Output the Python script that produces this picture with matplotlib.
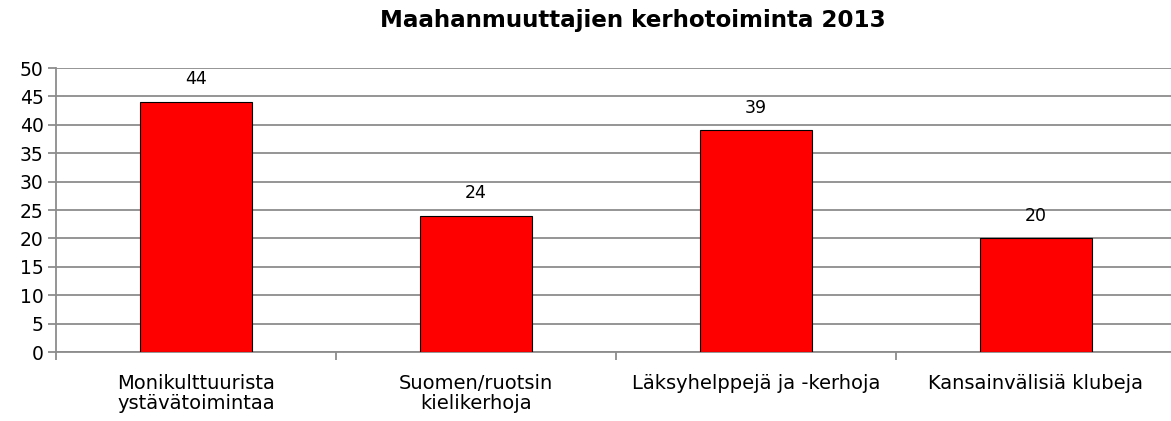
import matplotlib
matplotlib.use("Agg")
import matplotlib.pyplot as plt
import numpy as np

title = "Maahanmuuttajien kerhotoiminta 2013"
categories = [
    "Monikulttuurista\nystävätoimintaa",
    "Suomen/ruotsin\nkielikerhoja",
    "Läksyhelppejä ja -kerhoja",
    "Kansainvälisiä klubeja",
]
values = [44, 24, 39, 20]
y_ticks = list(range(0, 51, 5))

plt.rcParams["font.family"] = ["DejaVu Sans"]

W, H = 1171, 421
fig = plt.figure(figsize=(W / 100, H / 100), dpi=100)
ax = fig.add_axes([56 / W, 69 / H, 1120 / W, 284 / H])

x = np.arange(len(categories))
ax.bar(x, values, width=0.4, color="#ff0000", edgecolor="#000000",
       linewidth=0.8, zorder=3)

for xi, v in zip(x, values):
    ax.annotate(str(v), (xi, v), xytext=(0, 10), textcoords="offset points",
                ha="center", va="bottom", fontsize=12.5, color="#000000")

ax.set_xlim(-0.5, len(categories) - 0.5)
ax.set_ylim(0, 50)
ax.set_yticks(y_ticks)
ax.yaxis.grid(True, color="#8c8c8c", linewidth=1.3, zorder=0)
ax.set_axisbelow(True)

# boundary ticks between categories, labels at category centres
ax.set_xticks(np.arange(-0.5, len(categories), 1.0))
ax.set_xticklabels([])
ax.set_xticks(x, minor=True)
ax.set_xticklabels(categories, minor=True, fontsize=14, linespacing=1.08)
ax.tick_params(axis="x", which="minor", length=0, pad=16)
ax.tick_params(axis="x", which="major", length=6, width=1.3, color="#8c8c8c")
ax.tick_params(axis="y", length=6, width=1.3, color="#8c8c8c",
               labelsize=13.5, pad=3)

for side in ("top", "right"):
    ax.spines[side].set_visible(False)
for side in ("left", "bottom"):
    ax.spines[side].set_color("#8c8c8c")
    ax.spines[side].set_linewidth(1.3)

fig.text(633 / W, 1 - 21 / H, title, ha="center", va="center",
         fontsize=16.6, fontweight="bold")

fig.savefig("out.png", dpi=100)
